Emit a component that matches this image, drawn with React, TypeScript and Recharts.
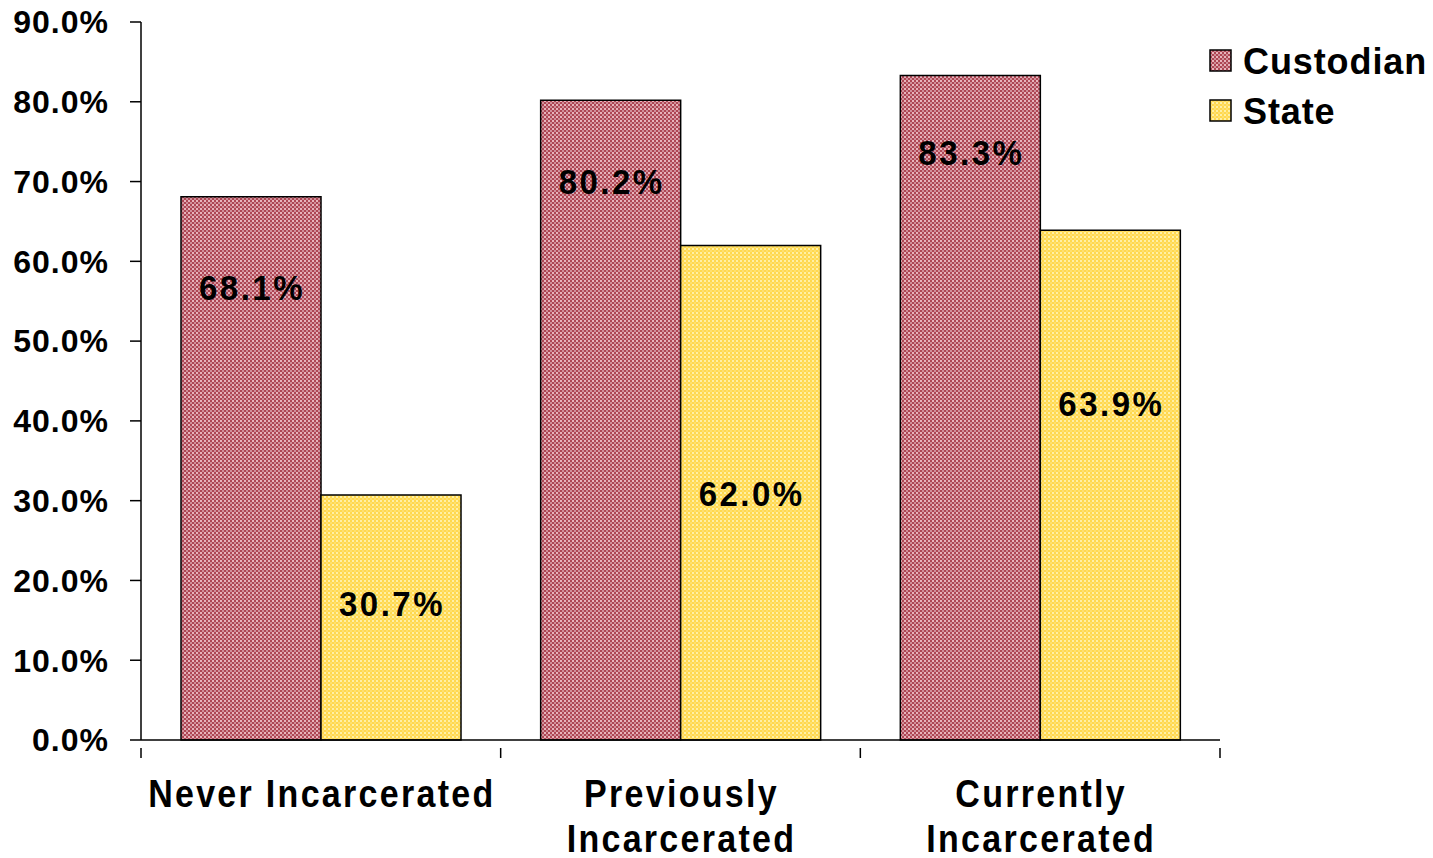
import React from 'react';
import { BarChart, Bar, XAxis, YAxis, Legend, LabelList } from 'recharts';

// Share of respondents by incarceration history
const categories = ['Never Incarcerated', 'Previously Incarcerated', 'Currently Incarcerated'];
const custodianValues = [68.1, 80.2, 83.3];
const stateValues = [30.7, 62.0, 63.9];
const yTicks = [0, 10, 20, 30, 40, 50, 60, 70, 80, 90];
const seriesNames = ['Custodian', 'State'];

const data = categories.map((name, i) => ({
  name,
  custodian: custodianValues[i],
  state: stateValues[i],
}));

// how far below each bar's top its value label sits (px)
const custodianLabelDrop = [91, 81, 77];
const stateLabelDrop = [108, 248, 173];

const FONT = '"Liberation Sans", Arial, Helvetica, sans-serif';
const patternIds = ['patCustodian', 'patState'];

const fmt = (v: number) => `${v.toFixed(1)}%`;

const makeLabel = (drops: number[]) => (props: any) => {
  const { x, y, width, value, index } = props;
  return (
    <text
      transform={`translate(${x + width / 2 + 1}, ${y + drops[index]}) scale(1, 1.08)`}
      textAnchor="middle"
      dominantBaseline="central"
      fontFamily={FONT}
      fontWeight="bold"
      fontSize={33}
      letterSpacing={2.5}
      fill="#000"
    >
      {fmt(value)}
    </text>
  );
};

// Category label plus tick marks at the category boundaries
const CategoryTick = (props: any) => {
  const { x, y, payload, index, width } = props;
  const half = width / categories.length / 2;
  const label: string = payload.value;
  let lines = [label];
  if (label.length > 18) {
    const cut = label.lastIndexOf(' ');
    lines = [label.slice(0, cut), label.slice(cut + 1)];
  }
  return (
    <g>
      {index === 0 && (
        <line x1={x - half} x2={x - half} y1={y} y2={y + 10} stroke="#000" strokeWidth={1.5} />
      )}
      <line x1={x + half} x2={x + half} y1={y} y2={y + 10} stroke="#000" strokeWidth={1.5} />
      {lines.map((ln, i) => (
        <text
          key={i}
          transform={`translate(${x + 1}, ${y + 59 + i * 45}) scale(1, 1.12)`}
          textAnchor="middle"
          fontFamily={FONT}
          fontWeight="bold"
          fontSize={34}
          letterSpacing={2.3}
          fill="#000"
        >
          {ln}
        </text>
      ))}
    </g>
  );
};

const LegendContent = () => (
  <svg width={225} height={110} style={{ overflow: 'visible' }}>
    {seriesNames.map((n, i) => (
      <g key={n} transform={`translate(0, ${i * 50})`}>
        <rect x={2} y={6} width={21} height={21} fill={`url(#${patternIds[i]})`} stroke="#000" strokeWidth={1.5} />
        <text
          x={35}
          y={17}
          dominantBaseline="central"
          fontFamily={FONT}
          fontWeight="bold"
          fontSize={36}
          letterSpacing={0.9}
          fill="#000"
        >
          {n}
        </text>
      </g>
    ))}
  </svg>
);

export default function App() {
  return (
    <div style={{ position: 'absolute', left: 0, top: 0, width: 1433, height: 858, background: '#fff' }}>
      <BarChart
        width={1433}
        height={858}
        data={data}
        margin={{ top: 22, right: 213, bottom: 0, left: 0 }}
        barCategoryGap={40}
        barGap={0}
      >
        <defs>
          {/* fine checkered fills, 2px cells */}
          <pattern id="patCustodian" width={4} height={4} patternUnits="userSpaceOnUse">
            <rect width={4} height={4} fill="#ae4654" />
            <rect x={0} y={0} width={2} height={2} fill="#e8b4bc" />
            <rect x={2} y={2} width={2} height={2} fill="#d0909a" />
          </pattern>
          <pattern id="patState" width={4} height={4} patternUnits="userSpaceOnUse">
            <rect width={4} height={4} fill="#ffd84e" />
            <rect x={0} y={0} width={2} height={2} fill="#fff0a6" />
            <rect x={2} y={2} width={2} height={2} fill="#ffe070" />
          </pattern>
        </defs>
        <XAxis
          dataKey="name"
          height={118}
          axisLine={{ stroke: '#000', strokeWidth: 1.5 }}
          tickLine={false}
          tick={<CategoryTick />}
          interval={0}
        />
        <YAxis
          width={141}
          domain={[0, 90]}
          ticks={yTicks}
          tickFormatter={fmt}
          tickSize={11}
          tickMargin={21}
          axisLine={{ stroke: '#000', strokeWidth: 1.5 }}
          tickLine={{ stroke: '#000', strokeWidth: 1.5 }}
          tick={{ fontFamily: FONT, fontWeight: 'bold', fontSize: 32, letterSpacing: 1, fill: '#000' }}
        />
        <Legend
          layout="vertical"
          align="center"
          verticalAlign="middle"
          content={<LegendContent />}
          wrapperStyle={{ left: 1208, top: 44, width: 225 }}
        />
        <Bar
          dataKey="custodian"
          name={seriesNames[0]}
          fill="url(#patCustodian)"
          stroke="#000"
          strokeWidth={1.5}
          isAnimationActive={false}
        >
          <LabelList dataKey="custodian" content={makeLabel(custodianLabelDrop)} />
        </Bar>
        <Bar
          dataKey="state"
          name={seriesNames[1]}
          fill="url(#patState)"
          stroke="#000"
          strokeWidth={1.5}
          isAnimationActive={false}
        >
          <LabelList dataKey="state" content={makeLabel(stateLabelDrop)} />
        </Bar>
      </BarChart>
    </div>
  );
}
